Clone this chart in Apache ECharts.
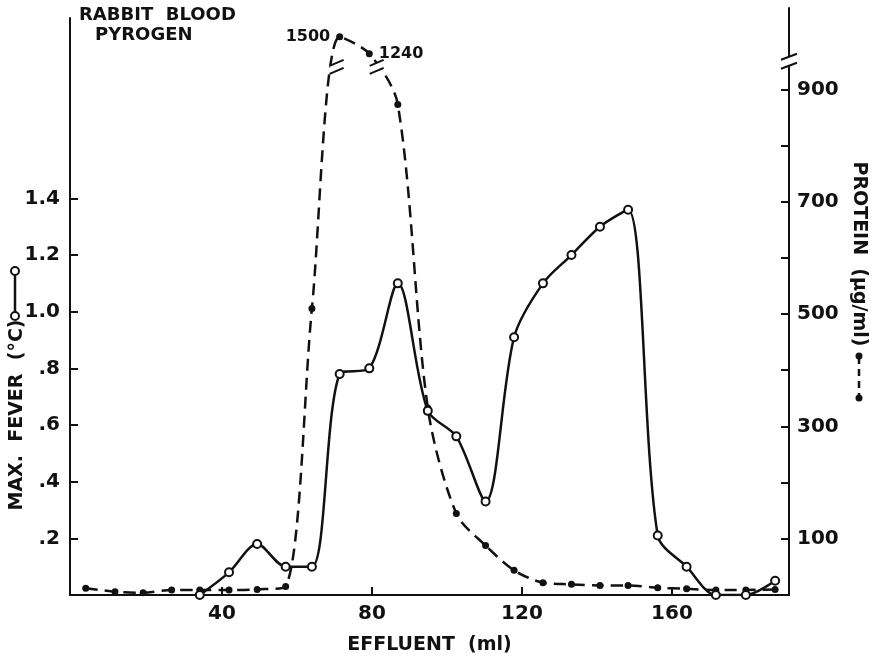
<!DOCTYPE html>
<html><head><meta charset="utf-8">
<script src="https://cdn.jsdelivr.net/npm/echarts@6/dist/echarts.min.js"></script>
<style>html,body{margin:0;padding:0;background:#fff}#c{width:874px;height:660px}</style>
</head><body><div id="c"></div>
<script>
// ---- data ----
const effluent = [3.7, 11.5, 19, 26.6, 34.1, 41.9, 49.4, 57, 64, 71.4, 79.3, 86.9, 94.9, 102.5, 110.3, 117.9, 125.6, 133.2, 140.8, 148.3, 156.2, 163.9, 171.7, 179.7, 187.5];
const fever = [null, null, null, null, 0.0, 0.08, 0.18, 0.10, 0.10, 0.78, 0.80, 1.10, 0.65, 0.56, 0.33, 0.91, 1.10, 1.20, 1.30, 1.36, 0.21, 0.10, 0.0, 0.0, 0.05];
const protein = [12, 6, 4, 9, 9, 9, 10, 15, 510, 1500, 1240, 873, 333, 145, 88, 44, 22, 19, 17, 17, 13, 11, 9, 9, 10];
const xTicks = [40, 80, 120, 160];
const feverTicks = [0.2, 0.4, 0.6, 0.8, 1.0, 1.2, 1.4];
const feverTickLabels = ['.2', '.4', '.6', '.8', '1.0', '1.2', '1.4'];
const proteinTicks = [100, 200, 300, 400, 500, 600, 700, 800, 900];
const proteinLabels = [100, 300, 500, 700, 900];
const labelledProtein = [1500, 1240];

// broken protein axis: linear up to BREAK_LO, compressed above BREAK_HI
const BREAK_LO = 944, BREAK_HI = 1072, BREAK_K = 0.1153;
function toAxis(v) { return v <= BREAK_LO ? v : BREAK_LO + (v - BREAK_HI) * BREAK_K; }

const FONT = 'DejaVu Sans';
const BLACK = '#111';
const txt = {color: BLACK, fontFamily: FONT, fontWeight: 'bold'};

const chart = echarts.init(document.getElementById('c'));

const feverData = [];
effluent.forEach((x, i) => { if (fever[i] != null) feverData.push([x, fever[i]]); });
const proteinData = effluent.map((x, i) => ({
  value: [x, toAxis(protein[i])],
  label: labelledProtein.indexOf(protein[i]) >= 0 ? {
    show: true,
    position: protein[i] === 1500 ? 'left' : 'right',
    distance: 6,
    formatter: String(protein[i]),
    color: BLACK, fontFamily: FONT, fontWeight: 'bold', fontSize: 16
  } : {show: false}
}));

const axisLineStyle = {color: BLACK, width: 2};
const tickStyle = {color: BLACK, width: 2};

chart.setOption({
  animation: false,
  backgroundColor: '#fff',
  grid: [
    {left: 70, right: 85, top: 18, bottom: 65},
    {left: 70, right: 85, top: 8, bottom: 65}
  ],
  xAxis: [
    {
      gridIndex: 0, type: 'value', min: -0.5, max: 191.2,
      axisLine: {show: true, onZero: false, lineStyle: axisLineStyle},
      axisTick: {show: true, inside: true, length: 8, lineStyle: tickStyle, customValues: xTicks},
      axisLabel: Object.assign({customValues: xTicks, fontSize: 20, margin: 9}, txt),
      splitLine: {show: false},
      name: 'EFFLUENT  (ml)', nameLocation: 'middle', nameGap: 41,
      nameTextStyle: Object.assign({fontSize: 19}, txt)
    },
    {gridIndex: 1, type: 'value', min: -0.5, max: 191.2, show: false, axisLine: {onZero: false}}
  ],
  yAxis: [
    {
      gridIndex: 0, type: 'value', min: 0, max: 2.0367, position: 'left',
      axisLine: {show: true, onZero: false, lineStyle: axisLineStyle},
      axisTick: {show: true, inside: true, length: 8, lineStyle: tickStyle, customValues: feverTicks},
      axisLabel: Object.assign({
        customValues: feverTicks, fontSize: 20, margin: 10,
        formatter: v => { const i = feverTicks.findIndex(t => Math.abs(t - v) < 1e-6); return i >= 0 ? feverTickLabels[i] : ''; }
      }, txt),
      splitLine: {show: false}
    },
    {
      gridIndex: 1, type: 'value', min: 0, max: 1044.7, position: 'right',
      axisLine: {show: true, onZero: false, lineStyle: axisLineStyle},
      axisTick: {show: true, inside: true, length: 8, lineStyle: tickStyle, customValues: proteinTicks},
      axisLabel: Object.assign({customValues: proteinLabels, fontSize: 20, margin: 8}, txt),
      splitLine: {show: false}
    }
  ],
  series: [
    {
      name: 'protein', type: 'line', xAxisIndex: 1, yAxisIndex: 1,
      data: proteinData, smooth: 0.3,
      symbol: 'circle', symbolSize: 7,
      itemStyle: {color: BLACK},
      lineStyle: {color: BLACK, width: 2.5, type: [12, 7]},
      z: 2
    },
    {
      name: 'fever', type: 'line', xAxisIndex: 0, yAxisIndex: 0,
      data: feverData, smooth: 0.3,
      symbol: 'emptyCircle', symbolSize: 8, showAllSymbol: true,
      itemStyle: {color: BLACK, borderColor: BLACK, borderWidth: 2},
      lineStyle: {color: BLACK, width: 2.5},
      z: 3
    }
  ]
});

// ---- decorations: title, axis names with symbol keys, break marks ----
function breakMark(cx, cy, half, rise, gap) {
  return [
    {type: 'polygon', z: 100, shape: {points: [[cx - half, cy - gap / 2 + rise], [cx + half, cy - gap / 2 - rise], [cx + half, cy + gap / 2 - rise], [cx - half, cy + gap / 2 + rise]]}, style: {fill: '#fff', stroke: null}},
    {type: 'line', z: 101, shape: {x1: cx - half, y1: cy - gap / 2 + rise, x2: cx + half, y2: cy - gap / 2 - rise}, style: {stroke: BLACK, lineWidth: 2}},
    {type: 'line', z: 101, shape: {x1: cx - half, y1: cy + gap / 2 + rise, x2: cx + half, y2: cy + gap / 2 - rise}, style: {stroke: BLACK, lineWidth: 2}}
  ];
}
function interpX(i0, i1, level) {
  const p0 = chart.convertToPixel({xAxisIndex: 1, yAxisIndex: 1}, proteinData[i0].value);
  const p1 = chart.convertToPixel({xAxisIndex: 1, yAxisIndex: 1}, proteinData[i1].value);
  const yl = chart.convertToPixel({yAxisIndex: 1}, level);
  const f = (yl - p0[1]) / (p1[1] - p0[1]);
  return [p0[0] + f * (p1[0] - p0[0]), yl];
}
const iPeak = protein.indexOf(1500);
const axisX = chart.convertToPixel({xAxisIndex: 1}, 191.2);
const axisBreakY = chart.convertToPixel({yAxisIndex: 1}, 950);
const leftBreak = interpX(iPeak - 1, iPeak, 940);
const rightBreak = interpX(iPeak + 1, iPeak + 2, 940);

const graphics = [
  {type: 'text', left: 79, top: 6, style: {text: 'RABBIT  BLOOD', fill: BLACK, font: 'bold 18px "DejaVu Sans"'}},
  {type: 'text', left: 95, top: 26, style: {text: 'PYROGEN', fill: BLACK, font: 'bold 18px "DejaVu Sans"'}},
  {type: 'text', x: 17, y: 415, rotation: Math.PI / 2, style: {text: 'MAX.  FEVER  (°C)', x: 0, y: 0, align: 'center', verticalAlign: 'middle', textAlign: 'center', textVerticalAlign: 'middle', fill: BLACK, font: 'bold 19px "DejaVu Sans"'}},
  {type: 'line', shape: {x1: 15, y1: 275, x2: 15, y2: 313}, style: {stroke: BLACK, lineWidth: 2.5}},
  {type: 'circle', shape: {cx: 15, cy: 271, r: 4}, style: {fill: '#fff', stroke: BLACK, lineWidth: 2}},
  {type: 'circle', shape: {cx: 15, cy: 316, r: 4}, style: {fill: '#fff', stroke: BLACK, lineWidth: 2}},
  {type: 'text', x: 859, y: 254, rotation: -Math.PI / 2, style: {text: 'PROTEIN  (µg/ml)', x: 0, y: 0, align: 'center', verticalAlign: 'middle', textAlign: 'center', textVerticalAlign: 'middle', fill: BLACK, font: 'bold 19px "DejaVu Sans"'}},
  {type: 'line', shape: {x1: 859, y1: 357, x2: 859, y2: 397}, style: {stroke: BLACK, lineWidth: 2.5, lineDash: [7, 5]}},
  {type: 'circle', shape: {cx: 859, cy: 356, r: 3.5}, style: {fill: BLACK}},
  {type: 'circle', shape: {cx: 859, cy: 398, r: 3.5}, style: {fill: BLACK}}
].concat(
  breakMark(axisX, axisBreakY, 8, 3, 9),
  breakMark(leftBreak[0], leftBreak[1], 7, 3, 8),
  breakMark(rightBreak[0], rightBreak[1], 7, 3, 8)
);
chart.setOption({graphic: graphics});
</script>
</body></html>
